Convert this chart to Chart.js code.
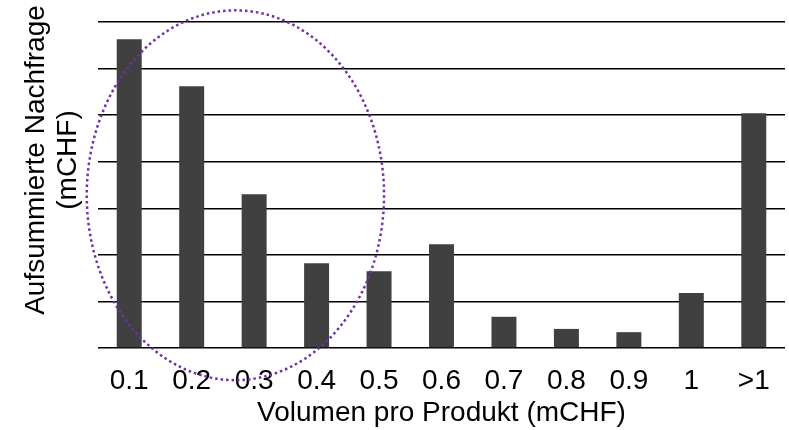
<!DOCTYPE html>
<html>
<head>
<meta charset="utf-8">
<script src="https://cdn.jsdelivr.net/npm/chart.js@4"></script>
<style>
  html, body { margin: 0; padding: 0; background: #fff; }
  #wrap { width: 789px; height: 430px; }
</style>
</head>
<body>
<div id="wrap"><canvas id="nachfrageChart"></canvas></div>
<script>
// Data
const categories = ['0.1', '0.2', '0.3', '0.4', '0.5', '0.6', '0.7', '0.8', '0.9', '1', '>1'];
const nachfrage = [6.63, 5.62, 3.30, 1.82, 1.65, 2.23, 0.67, 0.41, 0.34, 1.18, 5.04];
const yTitleLines = ['Aufsummierte Nachfrage', '(mCHF)'];
const xTitle = 'Volumen pro Produkt (mCHF)';
// Dotted ellipse round the first bars: centre (category index, value), radii (categories, value units)
const ellipseMark = { cx: 1.7, cy: 3.28, rx: 2.38, ry: 3.97 };

const fontFamily = '"Liberation Sans", Arial, sans-serif';
Chart.defaults.color = '#000';
Chart.defaults.font.family = fontFamily;

// Draw the rotated two line y title, centred a bit above the plot middle like the original
const yTitlePlugin = {
    id: 'yTitle',
    afterDraw(chart) {
        const ctx = chart.ctx;
        ctx.save();
        ctx.fillStyle = '#000';
        ctx.font = '28px ' + fontFamily;
        ctx.textAlign = 'center';
        ctx.textBaseline = 'middle';
        ctx.translate(0, 160);
        ctx.rotate(-Math.PI / 2);
        yTitleLines.forEach((line, i) => {
            ctx.fillText(line, 0, 36 + i * 32);
        });
        ctx.restore();
    }
};

// Dotted purple ellipse
const ellipsePlugin = {
    id: 'ellipseMark',
    afterDatasetsDraw(chart) {
        const { ctx, scales: { x, y } } = chart;
        const cx = x.getPixelForValue(ellipseMark.cx);
        const cy = y.getPixelForValue(ellipseMark.cy);
        const rx = x.getPixelForValue(ellipseMark.cx + ellipseMark.rx) - cx;
        const ry = cy - y.getPixelForValue(ellipseMark.cy + ellipseMark.ry);
        ctx.save();
        ctx.strokeStyle = '#7030A0';
        ctx.lineWidth = 2.5;
        ctx.setLineDash([2.5, 3]);
        ctx.beginPath();
        ctx.ellipse(cx, cy, rx, ry, 0, 0, Math.PI * 2);
        ctx.stroke();
        ctx.restore();
    }
};

const ctx = document.getElementById('nachfrageChart').getContext('2d');
const nachfrageChart = new Chart(ctx, {
    type: 'bar',
    data: {
        labels: categories,
        datasets: [{
            label: 'Aufsummierte Nachfrage',
            data: nachfrage,
            backgroundColor: '#404040',
            borderWidth: 0,
            barPercentage: 0.4,
            categoryPercentage: 1.0
        }]
    },
    options: {
        responsive: true,
        maintainAspectRatio: false,
        animation: false,
        layout: { padding: { top: 22, right: 4, bottom: 0, left: 0 } },
        plugins: {
            legend: { display: false },
            tooltip: { enabled: false }
        },
        scales: {
            x: {
                grid: { display: false, drawTicks: false },
                border: { display: false },
                ticks: { font: { size: 28 }, padding: 16, color: '#000' },
                title: {
                    display: true,
                    text: xTitle,
                    font: { size: 28 },
                    padding: { top: 0, bottom: 0 },
                    color: '#000'
                },
                afterFit(scale) { scale.height = 82; }
            },
            y: {
                min: 0,
                max: 7,
                ticks: { display: false, stepSize: 1 },
                grid: { color: '#000', lineWidth: 1.5, drawTicks: false },
                border: { display: false },
                afterFit(scale) { scale.width = 98; }
            }
        }
    },
    plugins: [yTitlePlugin, ellipsePlugin]
});
</script>
</body>
</html>
